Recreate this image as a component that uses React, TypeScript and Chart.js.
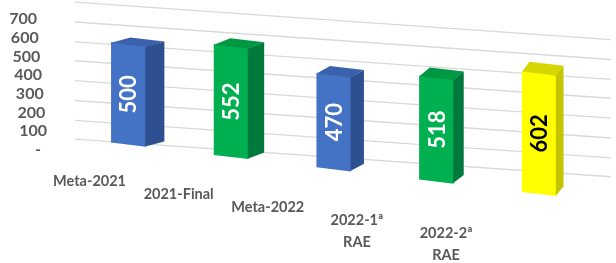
import React, { useEffect, useRef } from 'react';
import { Chart, registerables, LinearScale } from 'chart.js';

Chart.register(...registerables);

// ---------- data ----------
const categories: string[][] = [['Meta-2021'], ['2021-Final'], ['Meta-2022'], ['2022-1ª', 'RAE'], ['2022-2ª', 'RAE']];
const values: number[] = [500, 552, 470, 518, 602];
const yTicks: number[] = [0, 100, 200, 300, 400, 500, 600, 700];
const yTickLabels: string[] = ['-  ', '100', '200', '300', '400', '500', '600', '700'];

// ---------- styles ----------
const frontColors = ['#4472C4', '#00B050', '#4472C4', '#00B050', '#FFFF00'];
const sideColors = ['#2E5090', '#00793C', '#2E5090', '#00793C', '#C4C400'];
const topColors = ['#3A62AC', '#009843', '#3A62AC', '#009843', '#D6D600'];
const valueColors = ['#FFFFFF', '#FFFFFF', '#FFFFFF', '#FFFFFF', '#000000'];

const W = 616;
const H = 263;
const ZERO_Y = 150;
const TOP_Y = 19;
const PX100 = (ZERO_Y - TOP_Y) / 7;

// back-wall projection (grid)
const GRID_K = 0.07;
const GRID_M = 1.046;
const GRID_F = 142 - GRID_K * 110 - GRID_M * ZERO_Y;
// bar projection
const BAR_K = 0.12;
const BAR_M = 20.1 / PX100;
const BAR_F = 145 - BAR_K * 128 - BAR_M * ZERO_Y;
// category label projection
const LBL_A = 0.868;
const LBL_B = -21.9;
const LBL_Y0 = 207.6;
const LBL_K = 0.1265;
// value-axis label column shift
const YLBL_SHIFT = 26.3;
const YLBL_SLOPE = 0.089;

class WallScale extends (LinearScale as any) {
  static id = 'wall';
  drawGrid(area: any) {
    const ctx = this.ctx;
    ctx.save();
    ctx.transform(1, GRID_K, 0, GRID_M, 0, GRID_F);
    super.drawGrid(area);
    ctx.restore();
  }
  _computeLabelItems(area: any) {
    const items = super._computeLabelItems(area);
    items.forEach((it: any) => {
      const [x, y] = it.options.translation;
      it.options.translation = [x - YLBL_SHIFT + YLBL_SLOPE * (y - ZERO_Y), y];
    });
    return items;
  }
}

class FloorScale extends (LinearScale as any) {
  static id = 'floor';
  _computeLabelItems(area: any) {
    const items = super._computeLabelItems(area);
    items.forEach((it: any) => {
      const [x] = it.options.translation;
      it.options.translation = [LBL_A * x + LBL_B, LBL_Y0 + LBL_K * (x - 333.5) - it.textOffset];
    });
    return items;
  }
}

Chart.register(WallScale as any, FloorScale as any);

const depthPlugin = {
  id: 'depth3d',
  beforeDatasetsDraw(chart: any) {
    const ctx = chart.ctx;
    ctx.save();
    ctx.transform(1, BAR_K, 0, BAR_M, 0, BAR_F);
  },
  afterDatasetsDraw(chart: any) {
    const ctx = chart.ctx;
    ctx.restore();
    const P = (x: number, y: number) => [x, BAR_K * x + BAR_M * y + BAR_F];
    chart.getDatasetMeta(0).data.forEach((bar: any, i: number) => {
      const { x, y, base, width } = bar.getProps(['x', 'y', 'base', 'width'], true);
      const l = x - width / 2;
      const r = x + width / 2;
      const dx = 13.2 - 0.0282 * (x - 333.5);
      const dy = -(5 + 0.011 * (x - 128));
      const tl = P(l, y);
      const tr = P(r, y);
      const br = P(r, base);
      ctx.save();
      ctx.fillStyle = sideColors[i];
      ctx.beginPath();
      ctx.moveTo(tr[0] - 0.3, tr[1]);
      ctx.lineTo(tr[0] + dx, tr[1] + dy);
      ctx.lineTo(br[0] + dx, br[1] + dy);
      ctx.lineTo(br[0] - 0.3, br[1]);
      ctx.closePath();
      ctx.fill();
      ctx.fillStyle = topColors[i];
      ctx.beginPath();
      ctx.moveTo(tl[0], tl[1] + 0.3);
      ctx.lineTo(tr[0], tr[1] + 0.3);
      ctx.lineTo(tr[0] + dx, tr[1] + dy);
      ctx.lineTo(tl[0] + dx, tl[1] + dy);
      ctx.closePath();
      ctx.fill();
      const c = P(x, (y + base) / 2);
      ctx.translate(c[0], c[1]);
      ctx.rotate(-Math.PI / 2);
      ctx.font = 'bold 22px Lato';
      ctx.fillStyle = valueColors[i];
      ctx.textAlign = 'center';
      ctx.textBaseline = 'middle';
      ctx.fillText(String(values[i]), 0, 1);
      ctx.restore();
    });
  },
};

export default function App() {
  const ref = useRef<HTMLCanvasElement>(null);
  useEffect(() => {
    const chart = new Chart(ref.current as HTMLCanvasElement, {
      type: 'bar',
      data: {
        datasets: [
          {
            data: values.map((v, i) => ({ x: i, y: v })),
            backgroundColor: frontColors,
            borderWidth: 0,
            barThickness: 34,
            clip: false as any,
          },
        ],
      },
      options: {
        responsive: false,
        animation: false,
        layout: { padding: { left: 0, right: 5, top: TOP_Y, bottom: 0 } },
        plugins: { legend: { display: false }, tooltip: { enabled: false } },
        scales: {
          x: {
            type: 'floor' as any,
            min: -0.52,
            max: 4.7,
            offset: false,
            grid: { display: false },
            border: { display: false },
            afterBuildTicks: (s: any) => {
              s.ticks = categories.map((_, i) => ({ value: i }));
            },
            afterFit: (s: any) => {
              s.height = H - ZERO_Y;
            },
            ticks: {
              stepSize: 1,
              includeBounds: false,
              autoSkip: false,
              maxRotation: 0,
              minRotation: 0,
              color: '#595959',
              font: { family: 'Lato', weight: 'bold', size: 14.5, lineHeight: 1.5 },
              callback: (v: any) => categories[v] ?? '',
            },
          } as any,
          y: {
            type: 'wall' as any,
            min: 0,
            max: 700,
            grid: { color: '#D9D9D9', lineWidth: 1.3, drawTicks: false },
            border: { display: false },
            afterBuildTicks: (s: any) => {
              s.ticks = yTicks.map((v) => ({ value: v }));
            },
            afterFit: (s: any) => {
              s.width = 75;
            },
            ticks: {
              autoSkip: false,
              padding: 0,
              color: '#595959',
              font: { family: 'Lato', weight: 'bold', size: 16 },
              callback: (v: any) => {
                const idx = yTicks.indexOf(v);
                return idx >= 0 ? yTickLabels[idx] : '';
              },
            },
          } as any,
        },
      },
      plugins: [depthPlugin],
    });
    return () => chart.destroy();
  }, []);
  return (
    <div style={{ position: 'fixed', left: 0, top: 0, width: W, height: H, background: '#ffffff' }}>
      <canvas ref={ref} width={W} height={H} style={{ display: 'block' }} />
    </div>
  );
}
